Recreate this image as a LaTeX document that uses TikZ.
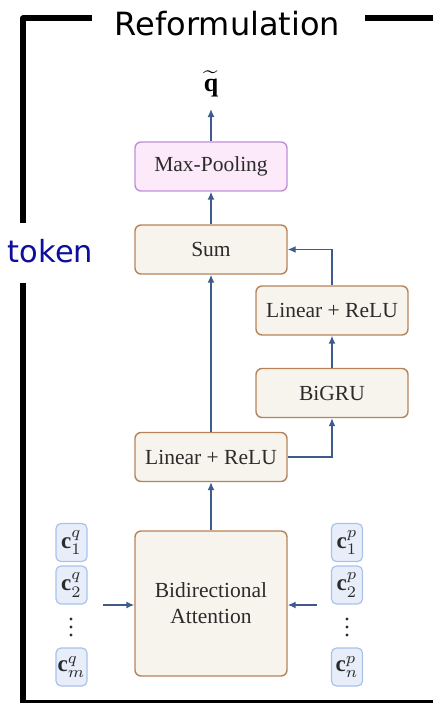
\documentclass[tikz,border=0pt]{standalone}
\usepackage{fontspec}
\usepackage{graphicx}
\setmainfont{Liberation Serif}
\newfontfamily\dvsans{DejaVu Sans}
\usetikzlibrary{arrows.meta}
\definecolor{creamfill}{HTML}{F6F4EC}
\definecolor{brownline}{HTML}{B9835A}
\definecolor{pinkfill}{HTML}{FCEAFA}
\definecolor{purpleline}{HTML}{BE90DC}
\definecolor{tokfill}{HTML}{E7EEFA}
\definecolor{tokline}{HTML}{A9C2EC}
\definecolor{arrowcol}{HTML}{3E5B8C}
\definecolor{navytext}{HTML}{0E0E9A}
\definecolor{boxtext}{HTML}{2B2B2B}
\newcommand{\tokm}[1]{\scalebox{2.3}{$#1$}}
\tikzset{
  blk/.style={draw=brownline, fill=creamfill, line width=1.4pt, rounded corners=6pt,
    minimum width=152pt, minimum height=49pt, inner sep=0pt, text=boxtext,
    font=\fontsize{21.5}{25}\selectfont, align=center},
  poolblk/.style={blk, draw=purpleline, fill=pinkfill},
  tok/.style={draw=tokline, fill=tokfill, line width=1.2pt, rounded corners=5pt,
    minimum width=31pt, minimum height=38pt, inner sep=0pt, text=boxtext},
  arr/.style={draw=arrowcol, line width=1.4pt, -{Latex[length=8pt,width=7pt]}},
  frame/.style={line width=6pt, black, line join=round},
  vdot/.style={fill=boxtext, circle, inner sep=0pt, minimum size=3.2pt}
}
\begin{document}
\begin{tikzpicture}[x=1pt,y=-1pt]
\useasboundingbox (0,0) rectangle (433,703);
% frame
\draw[frame] (92,18.5) -- (23,18.5) -- (23,223);
\draw[frame] (23,283) -- (23,703) -- (445,703);
\draw[frame] (365,18.5) -- (445,18.5);
\node[anchor=base, inner sep=0pt, font=\dvsans\fontsize{32}{36}\selectfont] (title) at (227.5,36) {Reformulation};
\node[anchor=base, inner sep=0pt, text=navytext, font=\dvsans\fontsize{30.5}{34}\selectfont] (token) at (50.5,262) {token};
% blocks
\node[poolblk] (maxp) at (211,166.5) {Max-Pooling};
\node[blk] (sum) at (211,249.5) {Sum};
\node[blk] (lr2) at (332,310.5) {Linear + ReLU};
\node[blk] (bigru) at (332,393) {BiGRU};
\node[blk] (lr1) at (211,457) {Linear + ReLU};
\node[blk, minimum height=145pt] (bia) at (211,603.5) {Bidirectional\\[1pt]Attention};
\node[inner xsep=0pt, inner ysep=12pt] (qt) at (211,84) {\scalebox{2.6}{$\widetilde{\mathbf{q}}$}};
% tokens
\node[tok] (cq1) at (71.5,542.5) {\tokm{\mathbf{c}_1^q}};
\node[tok] (cq2) at (71.5,585) {\tokm{\mathbf{c}_2^q}};
\node[tok] (cqm) at (71.5,667) {\tokm{\mathbf{c}_m^q}};
\node[tok] (cp1) at (347,542.5) {\tokm{\mathbf{c}_1^p}};
\node[tok] (cp2) at (347,585) {\tokm{\mathbf{c}_2^p}};
\node[tok] (cpn) at (347,667) {\tokm{\mathbf{c}_n^p}};
\node[vdot] (dq1) at (71,619) {};
\node[vdot] (dq2) at (71,627) {};
\node[vdot] (dq3) at (71,635) {};
\node[vdot] (dp1) at (347,619) {};
\node[vdot] (dp2) at (347,627) {};
\node[vdot] (dp3) at (347,635) {};
\coordinate (qin) at (103,605);
\coordinate (pin) at (317,605);
% connectors
\draw[arr] (qin) -- (qin -| bia.west);
\draw[arr] (pin) -- (pin -| bia.east);
\draw[arr] (bia.north) -- (lr1.south);
\draw[arr] (lr1.north) -- (sum.south);
\draw[arr] (lr1.east) -| (bigru.south);
\draw[arr] (bigru.north) -- (lr2.south);
\draw[arr] (lr2.north) |- (sum.east);
\draw[arr] (sum.north) -- (maxp.south);
\draw[arr] (maxp.north) -- (qt.south);
\end{tikzpicture}
\end{document}
